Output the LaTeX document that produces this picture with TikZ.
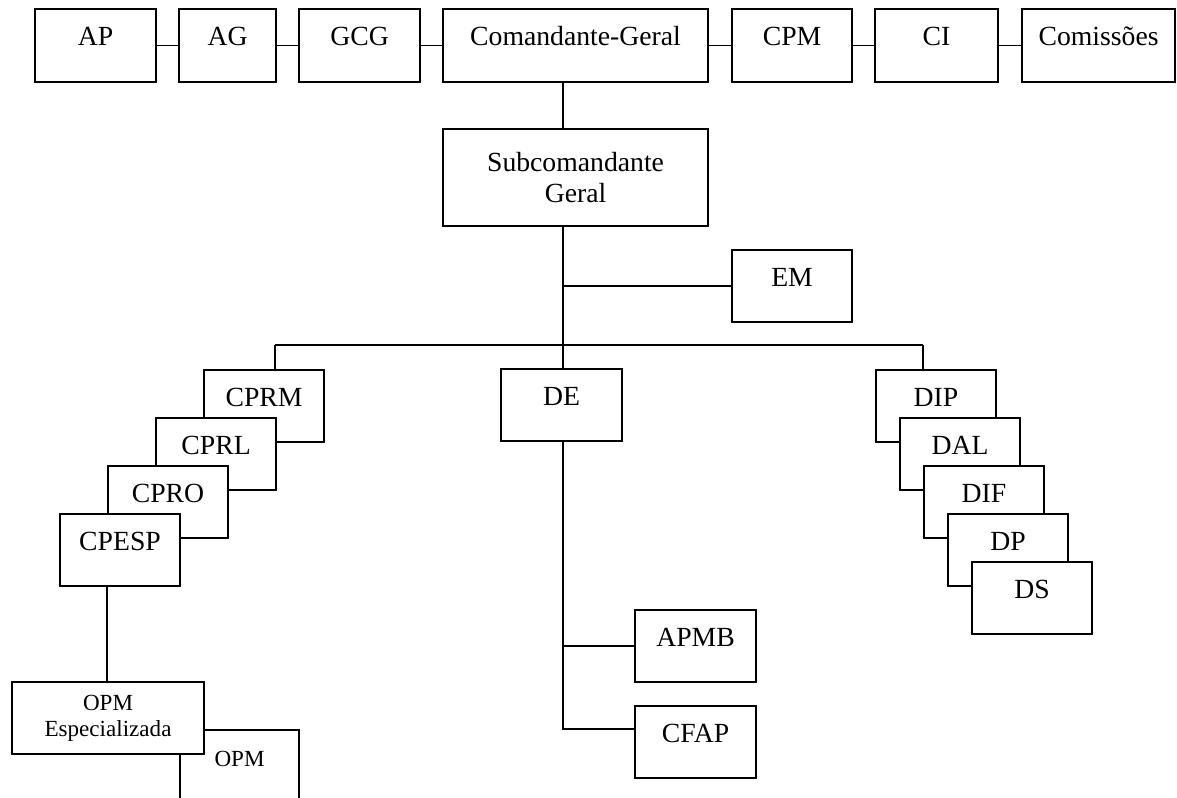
\documentclass[tikz,border=0pt]{standalone}
\usepackage{fontspec}
\setmainfont{Liberation Serif}

\def\px{0.4333pt}

\begin{document}
\begin{tikzpicture}[x=0.4333pt,y=-0.4333pt,
	unit/.style={draw,fill=white,line width=0.9pt,anchor=north west,inner sep=0pt,
		minimum width=120*\px,minimum height=72*\px,
		font=\fontsize{12}{13.8}\selectfont},
	box/.style={unit,text height=8pt,text depth=8pt},
	size/.style 2 args={minimum width=#1*\px,minimum height=#2*\px},
	smalltext/.style={font=\fontsize{10}{11.3}\selectfont},
	link/.style={line width=0.75pt}]

\useasboundingbox (0,0) rectangle (1177,798);

% top row
\node[box,size={121}{73}] (ap) at (34,8) {AP};
\node[box,size={97}{73}] (ag) at (178,8) {AG};
\node[box,size={121}{73}] (gcg) at (298,8) {GCG};
\node[box,size={265}{73}] (cg) at (442,8) {Comandante-Geral};
\node[box,size={120}{73}] (cpm) at (731,8) {CPM};
\node[box,size={123}{73}] (ci) at (874,8) {CI};
\node[box,size={153}{73}] (com) at (1021,8) {Comissões};

\node[unit,align=center,size={265}{97}] (sub) at (442,128) {Subcomandante\\Geral};
\node[box] (em) at (731,249) {EM};
\node[box,size={121}{72}] (de) at (500,368) {DE};

% left stack
\node[box] (cprm) at (203,369) {CPRM};
\node[box] (cprl) at (155,417) {CPRL};
\node[box] (cpro) at (107,465) {CPRO};
\node[box] (cpesp) at (59,513) {CPESP};
\node[box,smalltext,size={119}{72}] (opm) at (179,729) {OPM};
\node[unit,smalltext,align=center,size={192}{72}] (opmesp) at (11,681) {OPM\\Especializada};

% under DE
\node[box,size={121}{72}] (apmb) at (634,609) {APMB};
\node[box,size={121}{72}] (cfap) at (634,705) {CFAP};

% right stack
\node[box] (dip) at (875,369) {DIP};
\node[box] (dal) at (899,417) {DAL};
\node[box] (dif) at (923,465) {DIF};
\node[box] (dp) at (947,513) {DP};
\node[box] (ds) at (971,561) {DS};

\coordinate (trunk) at (563,345);
\coordinate (lbus) at (275,345);
\coordinate (rbus) at (923,345);
\coordinate (cpdrop) at (107,600);
\coordinate (knee) at (563,729);

\draw[link] (ap) -- (ag);
\draw[link] (ag) -- (gcg);
\draw[link] (gcg) -- (cg);
\draw[link] (cg) -- (cpm);
\draw[link] (cpm) -- (ci);
\draw[link] (ci) -- (com);

\draw[link] (cg.south -| trunk) -- (sub.north -| trunk);
\draw[link] (sub.south -| trunk) -- (de.north -| trunk);
\draw[link] (em.west) -- (em.west -| trunk);
\draw[link] (lbus) -- (rbus);
\draw[link] (lbus) -- (lbus |- cprm.north);
\draw[link] (rbus) -- (rbus |- dip.north);
\draw[link] (cpesp.south -| cpdrop) -- (opmesp.north -| cpdrop);
\draw[link] (de.south -| trunk) -- (knee) -- (knee -| cfap.west);
\draw[link] (apmb.west) -- (apmb.west -| trunk);

\end{tikzpicture}
\end{document}
